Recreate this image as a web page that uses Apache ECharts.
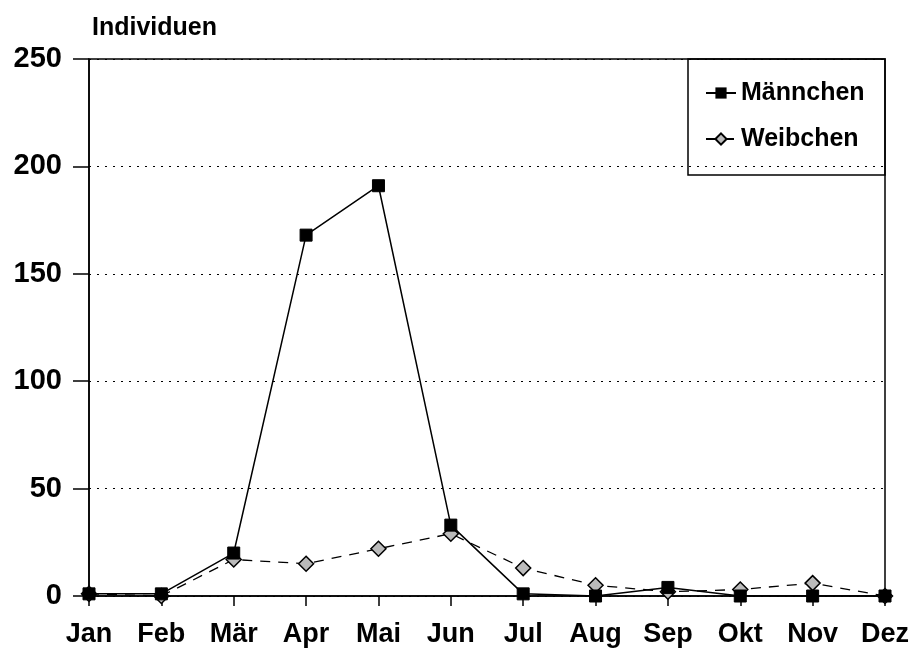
<!DOCTYPE html>
<html>
<head>
<meta charset="utf-8">
<script src="https://cdn.jsdelivr.net/npm/echarts@6/dist/echarts.min.js"></script>
<style>
  html, body { margin: 0; padding: 0; background: #fff; }
  #chart { width: 914px; height: 651px; }
</style>
</head>
<body>
<div id="chart"></div>
<script>
// monthly counts
const months = ['Jan', 'Feb', 'Mär', 'Apr', 'Mai', 'Jun', 'Jul', 'Aug', 'Sep', 'Okt', 'Nov', 'Dez'];
const maennchen = [1, 1, 20, 168, 191, 33, 1, 0, 4, 0, 0, 0];
const weibchen = [1, 0, 17, 15, 22, 29, 13, 5, 2, 3, 6, 0];
const yTicks = [0, 50, 100, 150, 200, 250];

const chart = echarts.init(document.getElementById('chart'));
const font = 'Liberation Sans, Arial, Helvetica, sans-serif';

const option = {
  backgroundColor: '#fff',
  animation: false,
  title: {
    text: 'Individuen',
    left: 87,
    top: 11,
    textStyle: { fontFamily: font, fontWeight: 'bold', fontSize: 25, color: '#000' }
  },
  grid: {
    left: 89,
    right: 29,
    top: 59,
    bottom: 55,
    show: true,
    borderColor: '#000',
    borderWidth: 1.5
  },
  // legend frame (transparent, the 200 gridline shows through)
  graphic: [{
    type: 'rect',
    shape: { x: 688, y: 59, width: 197, height: 116 },
    style: { fill: null, stroke: '#000', lineWidth: 1.5 },
    z: 10
  }],
  legend: {
    orient: 'vertical',
    left: 705,
    top: 79,
    padding: 0,
    itemGap: 18,
    itemWidth: 30,
    itemHeight: 14,
    textStyle: { fontFamily: font, fontWeight: 'bold', fontSize: 25, lineHeight: 28, color: '#000', padding: [0, 0, 0, 0] },
    data: ['Männchen', 'Weibchen']
  },
  xAxis: {
    type: 'category',
    data: months,
    boundaryGap: false,
    axisLine: { lineStyle: { color: '#000', width: 1.5 } },
    axisTick: { show: true, length: 10, lineStyle: { color: '#000', width: 1.5 } },
    axisLabel: { fontFamily: font, fontWeight: 'bold', fontSize: 27, color: '#000', margin: 25 },
    splitLine: { show: false }
  },
  yAxis: {
    type: 'value',
    min: 0,
    max: 250,
    interval: 50,
    axisLine: { show: true, lineStyle: { color: '#000', width: 1.5 } },
    axisTick: { show: true, length: 16, lineStyle: { color: '#000', width: 1.5 } },
    axisLabel: {
      fontFamily: font, fontWeight: 'bold', fontSize: 29, color: '#000', margin: 27,
      formatter: v => yTicks.indexOf(v) >= 0 ? String(v) : ''
    },
    splitLine: { show: true, lineStyle: { color: '#000', type: [2, 6], width: 1.2 } }
  },
  series: [
    {
      name: 'Weibchen',
      type: 'line',
      data: weibchen,
      symbol: 'diamond',
      symbolSize: 15,
      z: 2,
      lineStyle: { color: '#000', width: 1.3, type: [10, 8] },
      itemStyle: { color: '#bbb', borderColor: '#000', borderWidth: 1.5 }
    },
    {
      name: 'Männchen',
      type: 'line',
      data: maennchen,
      symbol: 'rect',
      symbolSize: 12,
      z: 3,
      lineStyle: { color: '#000', width: 1.5 },
      itemStyle: { color: '#000', borderColor: '#000' }
    }
  ]
};

chart.setOption(option);
</script>
</body>
</html>
